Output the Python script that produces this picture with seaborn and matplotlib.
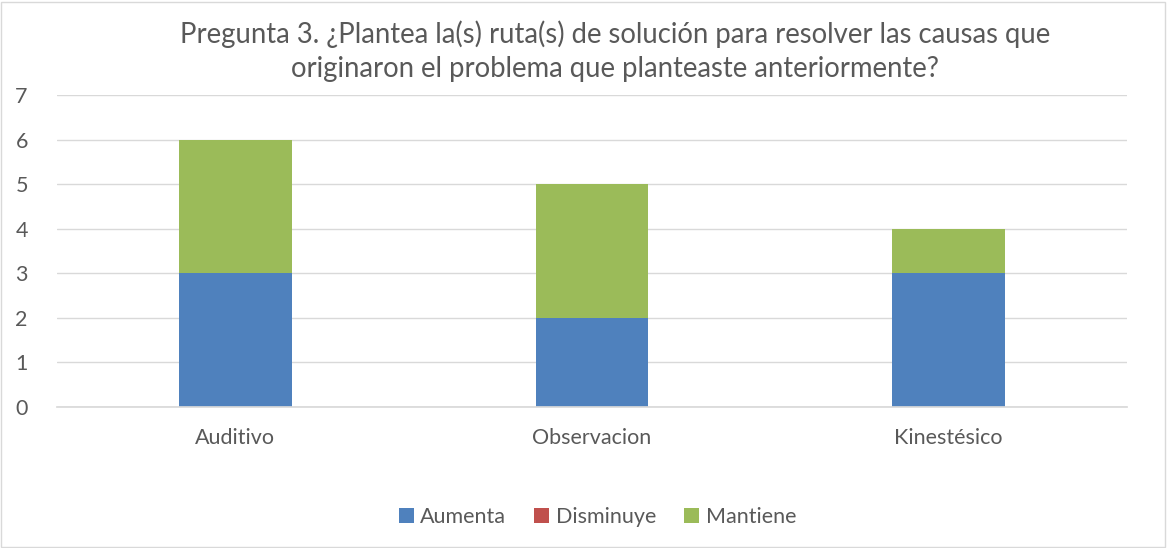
import matplotlib
matplotlib.use("Agg")
import matplotlib.pyplot as plt
import seaborn as sns
import pandas as pd
from matplotlib.patches import Patch, Rectangle

categories = ["Auditivo", "Observacion", "Kinestésico"]
aumenta = [3, 2, 3]
disminuye = [0, 0, 0]
mantiene = [3, 3, 1]
series_names = ["Aumenta", "Disminuye", "Mantiene"]
colors = ["#4F81BD", "#C0504D", "#9BBB59"]

sns.set_theme(style="white")
plt.rcParams['font.family'] = ['Lato', 'DejaVu Sans']

df = pd.DataFrame({"cat": categories, "Aumenta": aumenta,
                   "Disminuye": disminuye, "Mantiene": mantiene})
df["c2"] = df["Aumenta"] + df["Disminuye"]
df["c3"] = df["c2"] + df["Mantiene"]

fig = plt.figure(figsize=(11.67, 5.48), dpi=100)
ax = fig.add_axes([0.0488, 0.2573, 0.9169, 0.5693])

for col, c in [("c3", colors[2]), ("c2", colors[1]), ("Aumenta", colors[0])]:
    sns.barplot(data=df, x="cat", y=col, color=c, width=0.316,
                saturation=1, ax=ax, order=categories, linewidth=0, edgecolor="none")

ax.set_ylim(0, 7)
ax.set_yticks(range(0, 8))
ax.set_xlim(-0.5, 2.5)
ax.yaxis.grid(True, color="#D9D9D9", linewidth=1)
ax.set_axisbelow(True)
for s in ["top", "right", "left"]:
    ax.spines[s].set_visible(False)
ax.spines["bottom"].set_color("#D9D9D9")
ax.set_xlabel("")
ax.set_ylabel("")
ax.tick_params(axis="y", length=0, pad=21, labelsize=15.5, labelcolor="#595959")
ax.tick_params(axis="x", length=0, pad=15, labelsize=15.5, labelcolor="#595959")

fig.text(0.527, 0.906, "Pregunta 3. ¿Plantea la(s) ruta(s) de solución para resolver las causas que\noriginaron el problema que planteaste anteriormente?",
         ha="center", va="center", fontsize=19.8, color="#595959", linespacing=1.38)

handles = [Patch(facecolor=c, edgecolor="none") for c in colors]
fig.legend(handles, series_names, loc="center", bbox_to_anchor=(0.512, 0.057),
           ncol=3, frameon=False, fontsize=15.5, handlelength=0.7, handleheight=0.7,
           handletextpad=0.3, columnspacing=1.3, labelcolor="#595959")

fig.patches.append(Rectangle((0.001, 0.002), 0.997, 0.995, transform=fig.transFigure,
                             fill=False, edgecolor="#D9D9D9", linewidth=1))

fig.savefig("out.png", dpi=100)
